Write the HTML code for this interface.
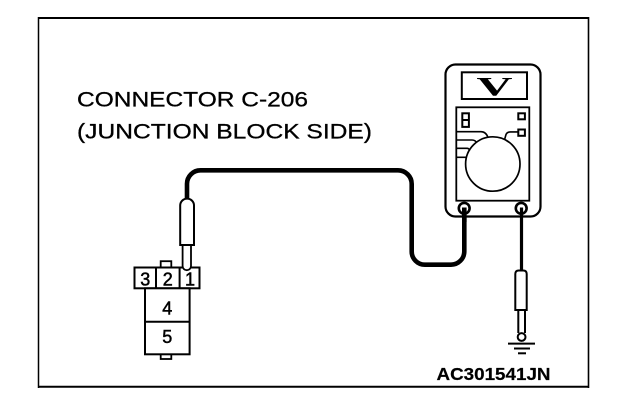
<!DOCTYPE html>
<html><head><meta charset="utf-8"><style>
html,body{margin:0;padding:0;background:#fff;}
svg{display:block;}
text{font-family:"Liberation Sans",Arial,sans-serif;fill:#000;}
</style></head><body>
<svg width="624" height="410" viewBox="0 0 624 410" xmlns="http://www.w3.org/2000/svg">
<rect width="624" height="410" fill="#fff"/>
<!-- frame -->
<line x1="38.5" y1="17" x2="38.5" y2="388" stroke="#000" stroke-width="1.5"/>
<line x1="588.5" y1="17" x2="588.5" y2="388" stroke="#000" stroke-width="1.6"/>
<line x1="38" y1="18" x2="589" y2="18" stroke="#000" stroke-width="2"/>
<line x1="38" y1="386.7" x2="589" y2="386.7" stroke="#000" stroke-width="2"/>

<!-- labels -->
<text x="77" y="106.5" font-size="21" stroke="#000" stroke-width="0.3" textLength="231" lengthAdjust="spacingAndGlyphs">CONNECTOR C-206</text>
<text x="77" y="138.5" font-size="21" stroke="#000" stroke-width="0.3" textLength="295" lengthAdjust="spacingAndGlyphs">(JUNCTION BLOCK SIDE)</text>
<text x="436.5" y="380" font-size="17.7" font-weight="bold" stroke="#000" stroke-width="0.2" textLength="114" lengthAdjust="spacingAndGlyphs">AC301541JN</text>

<!-- main wire -->
<path d="M187 200 V184 A13.5 13.5 0 0 1 200.5 170.3 H398 A13.7 13.7 0 0 1 411.7 184 V251.5 A13.2 13.2 0 0 0 424.9 264.7 H451 A13.3 13.3 0 0 0 464.3 251.4 V208" fill="none" stroke="#000" stroke-width="4.6"/>

<!-- meter -->
<rect x="445.5" y="64.5" width="95" height="152" rx="10" ry="10" fill="#fff" stroke="#000" stroke-width="2.2"/>
<rect x="461.8" y="72.3" width="65.2" height="26.7" fill="#fff" stroke="#000" stroke-width="2"/>
<text x="476.5" y="95.3" font-size="26" font-weight="bold" style="font-family:'Liberation Serif',serif" textLength="36" lengthAdjust="spacingAndGlyphs">V</text>
<rect x="456.3" y="107.3" width="73" height="93.4" fill="#fff" stroke="#000" stroke-width="1.8"/>
<!-- small indicators -->
<rect x="462.3" y="113.3" width="6.6" height="13.6" fill="none" stroke="#000" stroke-width="2"/>
<line x1="462.3" y1="120" x2="468.9" y2="120" stroke="#000" stroke-width="2"/>
<rect x="518.3" y="113.3" width="6.6" height="6" fill="none" stroke="#000" stroke-width="2"/>
<rect x="518.3" y="129.5" width="6.6" height="6.3" fill="none" stroke="#000" stroke-width="2"/>
<!-- dial -->
<circle cx="492.8" cy="164" r="27.2" fill="#fff" stroke="#000" stroke-width="1.7"/>
<path d="M456 131.7 H481 Q486 131.7 488 137.5" fill="none" stroke="#000" stroke-width="1.6"/>
<path d="M456 140 H472 Q475.5 140 476.5 142.8" fill="none" stroke="#000" stroke-width="1.6"/>
<path d="M456 148.3 H467 Q469 148.3 469.7 150.5" fill="none" stroke="#000" stroke-width="1.6"/>
<path d="M456 157.3 H466.5" fill="none" stroke="#000" stroke-width="1.6"/>
<path d="M504.6 139.5 L506 134.5 Q507 131.9 510.5 131.9 H518.3" fill="none" stroke="#000" stroke-width="1.6"/>
<!-- terminals -->
<circle cx="464.2" cy="208.3" r="5.4" fill="#fff" stroke="#000" stroke-width="2.6"/>
<circle cx="521.2" cy="208.3" r="5.4" fill="#fff" stroke="#000" stroke-width="2.6"/>
<line x1="464.3" y1="207.5" x2="464.3" y2="222" stroke="#000" stroke-width="4.6"/>
<line x1="521.5" y1="207.5" x2="521.5" y2="271" stroke="#000" stroke-width="3.2"/>

<!-- right probe + ground -->
<path d="M515.3 310 V274 Q515.3 270.5 518.8 270.5 H523.2 Q526.7 270.5 526.7 274 V310 Z" fill="#fff" stroke="#000" stroke-width="2"/>
<path d="M518.3 310 V333 M525 310 V333" fill="none" stroke="#000" stroke-width="2"/>
<circle cx="521.6" cy="337" r="3.9" fill="#fff" stroke="#000" stroke-width="2"/>
<line x1="508" y1="343.6" x2="535" y2="343.6" stroke="#000" stroke-width="2"/>
<line x1="514" y1="348.5" x2="530" y2="348.5" stroke="#000" stroke-width="2"/>
<line x1="518" y1="353.3" x2="526" y2="353.3" stroke="#000" stroke-width="2"/>

<!-- connector -->
<rect x="160.7" y="261.2" width="10.6" height="8" fill="#fff" stroke="#000" stroke-width="1.8"/>
<rect x="160.7" y="351" width="10.6" height="8" fill="#fff" stroke="#000" stroke-width="1.8"/>
<rect x="134.5" y="267.5" width="65" height="20.8" fill="#fff" stroke="#000" stroke-width="2"/>
<line x1="156" y1="267.5" x2="156" y2="288.3" stroke="#000" stroke-width="2"/>
<line x1="179.6" y1="267.5" x2="179.6" y2="288.3" stroke="#000" stroke-width="2"/>
<rect x="145" y="288.3" width="44.6" height="66" fill="#fff" stroke="#000" stroke-width="2"/>
<line x1="145" y1="321.7" x2="189.6" y2="321.7" stroke="#000" stroke-width="2"/>
<text x="145.3" y="285.6" font-size="18" stroke="#000" stroke-width="0.5" text-anchor="middle">3</text>
<text x="167.8" y="285.6" font-size="18" stroke="#000" stroke-width="0.5" text-anchor="middle">2</text>
<text x="190" y="285.6" font-size="18" stroke="#000" stroke-width="0.5" text-anchor="middle">1</text>
<text x="167.3" y="314.3" font-size="18" stroke="#000" stroke-width="0.5" text-anchor="middle">4</text>
<text x="167.3" y="342.8" font-size="18" stroke="#000" stroke-width="0.5" text-anchor="middle">5</text>

<!-- left probe -->
<path d="M182.6 245 V266 A4.2 4.2 0 0 0 191 266 V245" fill="#fff" stroke="#000" stroke-width="1.8"/>
<path d="M180.2 245 V205.5 A6.9 6.9 0 0 1 194 205.5 V245 Z" fill="#fff" stroke="#000" stroke-width="2"/>
</svg>
</body></html>
